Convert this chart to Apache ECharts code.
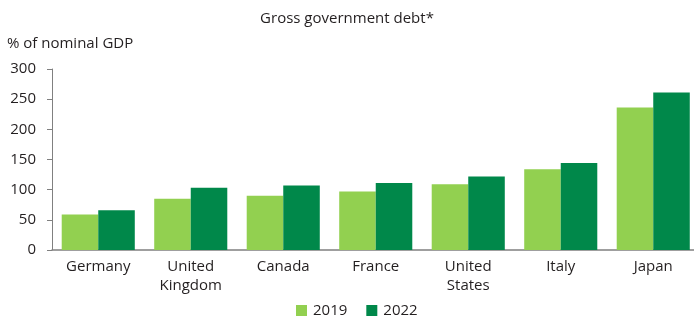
<!DOCTYPE html>
<html>
<head>
<meta charset="utf-8">
<script src="https://cdn.jsdelivr.net/npm/echarts@6/dist/echarts.min.js"></script>
<style>
  html, body { margin: 0; padding: 0; background: #fff; }
  #chart { width: 694px; height: 320px; }
</style>
</head>
<body>
<div id="chart"></div>
<script>
// Gross government debt, % of nominal GDP
const countries = ['Germany', 'United\nKingdom', 'Canada', 'France', 'United\nStates', 'Italy', 'Japan'];
const debt2019 = [59, 85, 90, 97, 109, 134, 236];
const debt2022 = [66, 103, 107, 111, 122, 144, 261];
const yTicks = [0, 50, 100, 150, 200, 250, 300];
const titleText = 'Gross government debt*';
const unitText = '% of nominal GDP';

const LIGHT = '#92d050';
const DARK = '#00884a';
const TEXT = '#231f20';
const AXIS = '#808080';
const labelFont = '"Open Sans", "Noto Sans", sans-serif';
const headFont = '15px "Open Sans", "Noto Sans", sans-serif';

const chart = echarts.init(document.getElementById('chart'), null, { renderer: 'canvas' });

chart.setOption({
  animation: false,
  backgroundColor: '#fff',
  graphic: [
    {
      type: 'text',
      x: 347,
      y: 19,
      style: { text: titleText, font: headFont, fill: TEXT, textAlign: 'center', textVerticalAlign: 'middle' }
    },
    {
      type: 'text',
      x: 7,
      y: 44,
      style: { text: unitText, font: headFont, fill: TEXT, textAlign: 'left', textVerticalAlign: 'middle' }
    }
  ],
  legend: {
    top: 298,
    left: 291,
    itemWidth: 11,
    itemHeight: 11,
    itemGap: 19,
    icon: 'rect',
    textStyle: { fontFamily: labelFont, fontSize: 15, color: TEXT, padding: [0, 0, 0, 1] },
    data: ['2019', '2022']
  },
  grid: { left: 52, top: 69, width: 647.5, bottom: 70, outerBoundsMode: 'none' },
  xAxis: {
    type: 'category',
    data: countries,
    axisLine: { lineStyle: { color: AXIS, width: 1.5 } },
    axisTick: { show: false },
    axisLabel: {
      fontFamily: labelFont,
      fontSize: 15,
      color: TEXT,
      margin: 7,
      lineHeight: 19,
      interval: 0
    }
  },
  yAxis: {
    type: 'value',
    min: yTicks[0],
    max: yTicks[yTicks.length - 1],
    interval: 50,
    axisLine: { show: true, lineStyle: { color: AXIS, width: 1 } },
    axisTick: { show: true, length: 5, lineStyle: { color: AXIS } },
    splitLine: { show: false },
    axisLabel: { fontFamily: labelFont, fontSize: 15, color: TEXT, margin: 16 }
  },
  series: [
    {
      name: '2019',
      type: 'bar',
      data: debt2019,
      itemStyle: { color: LIGHT },
      barGap: '0%',
      barCategoryGap: '21%'
    },
    {
      name: '2022',
      type: 'bar',
      data: debt2022,
      itemStyle: { color: DARK },
      barGap: '0%',
      barCategoryGap: '21%'
    }
  ]
});
</script>
</body>
</html>
